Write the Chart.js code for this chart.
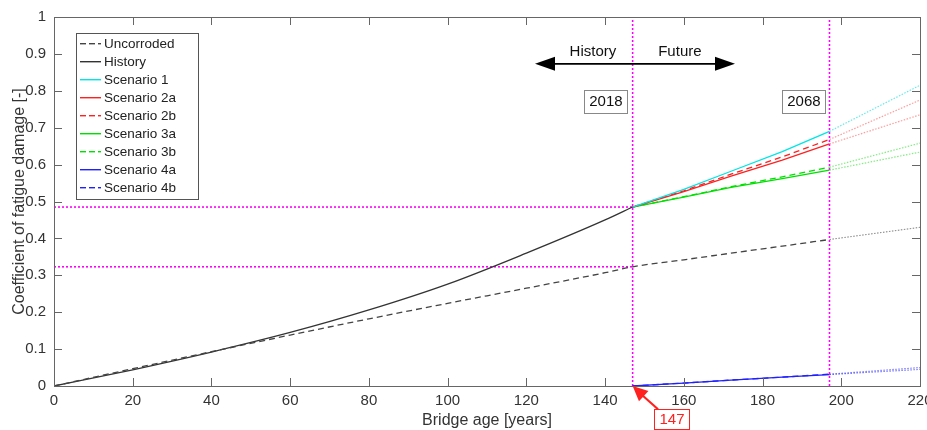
<!DOCTYPE html>
<html>
<head>
<meta charset="utf-8">
<script src="https://cdn.jsdelivr.net/npm/chart.js@4.4.1/dist/chart.umd.min.js"></script>
<style>
html,body{margin:0;padding:0;background:#fff}
#wrap{width:927px;height:430px;position:relative}
</style>
</head>
<body>
<div id="wrap"><canvas id="grafica"></canvas></div>
<script>
// ages (years) and damage values
const ageHist = [0,20,40,60,80,100,120,140,147]
const history = [0,0.044,0.092,0.145,0.206,0.276,0.36,0.45,0.485]
const uncorrodedPast = [0,0.047,0.093,0.138,0.182,0.224,0.265,0.307,0.323]

const ageFuture = [147,160,172,185,197]
const uncorrodedFuture = [0.323,0.342,0.36,0.379,0.397]
const scen1  = [0.485,0.533,0.582,0.635,0.69]
const scen2a = [0.485,0.527,0.569,0.612,0.656]
const scen2b = [0.485,0.529,0.574,0.621,0.668]
const scen3a = [0.485,0.512,0.538,0.562,0.585]
const scen3b = [0.485,0.513,0.54,0.567,0.593]
const scen4a = [0,0.008,0.016,0.024,0.031]
const scen4b = [0,0.008,0.016,0.024,0.032]

// beyond 2068 (dotted extension)
const ageExt = [197,220]
const extUncorroded = [0.397,0.43]
const ext1  = [0.69,0.815]
const ext2a = [0.656,0.735]
const ext2b = [0.668,0.775]
const ext3a = [0.585,0.634]
const ext3b = [0.593,0.658]
const ext4a = [0.031,0.045]
const ext4b = [0.032,0.05]

const milestoneAges = [147,197]
const milestoneLabels = ["2018","2068"]
const refLevels = [0.485,0.323]

const xTicks = [0,20,40,60,80,100,120,140,160,180,200,220]
const yTicks = [0,0.1,0.2,0.3,0.4,0.5,0.6,0.7,0.8,0.9,1]

function pts(xs,ys){ return xs.map((x,i)=>({x:x,y:ys[i]})) }
function join(xa,ya,xb,yb){ return pts(xa,ya).concat(pts(xb,yb).slice(1)) }

const CYAN='#00e5e5', RED='#ff2020', GREEN='#00e000', BLUE='#2020ff', DARK='#333333', MAG='#ff00ff'

function line(label,data,color,dash,opts){
  return Object.assign({
    label:label, data:data, borderColor:color, borderWidth:1.3,
    borderDash:dash||[], pointRadius:0, fill:false, tension:0,
    legendColor:color, legendDash:!!(dash&&dash.length)
  },opts||{})
}
function ext(data,color){
  return line('',data,color,[1.5,1.5],{borderWidth:1.2,legendHide:true})
}

let datasets = [
  line('Uncorroded', join(ageHist,uncorrodedPast,ageFuture,uncorrodedFuture), '#444', [6,4], {cubicInterpolationMode:'monotone'}),
  line('History', pts(ageHist,history), DARK, null, {cubicInterpolationMode:'monotone'}),
  line('Scenario 1', pts(ageFuture,scen1), CYAN),
  line('Scenario 2a', pts(ageFuture,scen2a), RED),
  line('Scenario 2b', pts(ageFuture,scen2b), RED, [6,4]),
  line('Scenario 3a', pts(ageFuture,scen3a), GREEN),
  line('Scenario 3b', pts(ageFuture,scen3b), GREEN, [6,4]),
  line('Scenario 4a', pts(ageFuture,scen4a), BLUE),
  line('Scenario 4b', pts(ageFuture,scen4b), BLUE, [6,4]),
  ext(pts(ageExt,extUncorroded),'rgba(80,80,80,0.6)'),
  ext(pts(ageExt,ext1),'rgba(0,220,220,0.6)'),
  ext(pts(ageExt,ext2a),'rgba(255,60,60,0.5)'),
  ext(pts(ageExt,ext2b),'rgba(255,60,60,0.5)'),
  ext(pts(ageExt,ext3a),'rgba(0,220,0,0.5)'),
  ext(pts(ageExt,ext3b),'rgba(0,220,0,0.5)'),
  ext(pts(ageExt,ext4a),'rgba(40,40,255,0.6)'),
  ext(pts(ageExt,ext4b),'rgba(40,40,255,0.6)')
]
// magenta reference lines
refLevels.forEach(v=>{
  datasets.push(line('',pts([0,milestoneAges[0]],[v,v]),MAG,[2,2],{borderWidth:1.6,legendHide:true}))
})
milestoneAges.forEach(a=>{
  datasets.push(line('',pts([a,a],[0,1]),MAG,[2,2],{borderWidth:1.6,legendHide:true}))
})

const FONT = '"Liberation Sans", Arial, sans-serif'

function arrowHead(ctx,x1,y1,x2,y2,len,wid){
  let ang=Math.atan2(y2-y1,x2-x1)
  ctx.beginPath()
  ctx.moveTo(x2,y2)
  ctx.lineTo(x2-len*Math.cos(ang)+wid*Math.sin(ang), y2-len*Math.sin(ang)-wid*Math.cos(ang))
  ctx.lineTo(x2-len*Math.cos(ang)-wid*Math.sin(ang), y2-len*Math.sin(ang)+wid*Math.cos(ang))
  ctx.closePath()
  ctx.fill()
}

function textBox(ctx,txt,cx,cy,color,border,h){
  h=h||23
  ctx.font='15px '+FONT
  let w=ctx.measureText(txt).width+10
  ctx.fillStyle='#fff'
  ctx.fillRect(cx-w/2,cy-h/2,w,h)
  ctx.strokeStyle=border
  ctx.lineWidth=1
  ctx.strokeRect(Math.round(cx-w/2)+0.5,Math.round(cy-h/2)+0.5,Math.round(w),h)
  ctx.fillStyle=color
  ctx.textAlign='center'
  ctx.textBaseline='middle'
  ctx.fillText(txt,cx,cy+1)
}

const decor = {
  id:'decor',
  afterDraw(chart){
    let ctx=chart.ctx, xs=chart.scales.x, ys=chart.scales.y, a=chart.chartArea
    ctx.save()
    // box and inward ticks
    ctx.strokeStyle='#666'
    ctx.lineWidth=1
    ctx.setLineDash([])
    ctx.strokeRect(a.left+0.5,a.top+0.5,a.right-a.left,a.bottom-a.top)
    ctx.beginPath()
    xTicks.forEach(t=>{
      let p=Math.round(xs.getPixelForValue(t))+0.5
      ctx.moveTo(p,a.bottom); ctx.lineTo(p,a.bottom-8)
      ctx.moveTo(p,a.top); ctx.lineTo(p,a.top+8)
    })
    yTicks.forEach(t=>{
      let p=Math.round(ys.getPixelForValue(t))+0.5
      ctx.moveTo(a.left,p); ctx.lineTo(a.left+8,p)
      ctx.moveTo(a.right,p); ctx.lineTo(a.right-8,p)
    })
    ctx.stroke()

    // legend
    let lx=76, ly=33, lw=122, lh=166
    ctx.fillStyle='#fff'
    ctx.fillRect(lx,ly,lw,lh)
    ctx.strokeStyle='#555'
    ctx.strokeRect(lx+0.5,ly+0.5,lw,lh)
    ctx.font='13.5px '+FONT
    ctx.textBaseline='middle'
    ctx.textAlign='left'
    chart.data.datasets.filter(d=>!d.legendHide).forEach((d,i)=>{
      let y=Math.round(ly+10+i*18)
      ctx.fillStyle=d.legendColor
      if(d.legendDash){
        ctx.fillRect(lx+4,y,6,1.4)
        ctx.fillRect(lx+13,y,6,1.4)
        ctx.fillRect(lx+22,y,3,1.4)
      }else{
        ctx.fillRect(lx+4,y,21,1.4)
      }
      ctx.fillStyle='#222'
      ctx.fillText(d.label,lx+28,y+1)
    })

    // History / Future arrow
    let ay=ys.getPixelForValue(0.873)
    let x1=xs.getPixelForValue(122.2), x2=xs.getPixelForValue(173)
    ctx.strokeStyle='#000'; ctx.fillStyle='#000'; ctx.lineWidth=1.6
    ctx.beginPath(); ctx.moveTo(x1+10,ay); ctx.lineTo(x2-10,ay); ctx.stroke()
    arrowHead(ctx,x2-20,ay,x2,ay,20,7)
    arrowHead(ctx,x1+20,ay,x1,ay,20,7)
    ctx.font='15px '+FONT
    ctx.textAlign='center'; ctx.textBaseline='middle'
    ctx.fillStyle='#111'
    ctx.fillText('History',xs.getPixelForValue(136.9),ys.getPixelForValue(0.905))
    ctx.fillText('Future',xs.getPixelForValue(159),ys.getPixelForValue(0.905))

    // milestone year boxes
    textBox(ctx,milestoneLabels[0],xs.getPixelForValue(140.2),ys.getPixelForValue(0.772),'#111','#888')
    textBox(ctx,milestoneLabels[1],xs.getPixelForValue(190.5),ys.getPixelForValue(0.772),'#111','#888')

    // 147 pointer
    let bx=xs.getPixelForValue(157), by=ys.getPixelForValue(-0.09)
    ctx.strokeStyle=RED; ctx.fillStyle=RED; ctx.lineWidth=2.2
    let tx=xs.getPixelForValue(milestoneAges[0]), ty=ys.getPixelForValue(0)
    ctx.beginPath(); ctx.moveTo(bx-14,by-10); ctx.lineTo(tx+6,ty+6); ctx.stroke()
    arrowHead(ctx,bx-14,by-10,tx,ty,15,7)
    textBox(ctx,String(milestoneAges[0]),bx,by,RED,RED,20)
    ctx.restore()
  }
}

new Chart(document.getElementById('grafica'),{
  type:'line',
  data:{datasets:datasets},
  options:{
    responsive:true,
    maintainAspectRatio:false,
    animation:false,
    layout:{autoPadding:false,padding:{top:17,right:7,left:0,bottom:0}},
    plugins:{legend:{display:false},tooltip:{enabled:false}},
    scales:{
      x:{
        type:'linear', min:0, max:220,
        afterFit(s){ s.height=44; s.paddingRight=0; s.paddingLeft=0 },
        afterBuildTicks(s){ s.ticks=xTicks.map(v=>({value:v})) },
        grid:{display:false,drawTicks:false},
        border:{display:false},
        ticks:{color:'#333',padding:6,font:{family:FONT,size:15},maxRotation:0},
        title:{display:true,text:'Bridge age [years]',color:'#333',font:{family:FONT,size:16},padding:{top:4,bottom:0}}
      },
      y:{
        type:'linear', min:0, max:1,
        afterFit(s){ s.width=54; s.paddingTop=0; s.paddingBottom=0 },
        afterBuildTicks(s){ s.ticks=yTicks.map(v=>({value:v})) },
        grid:{display:false,drawTicks:false},
        border:{display:false},
        ticks:{color:'#333',padding:8,font:{family:FONT,size:15},callback:v=>String(+v.toFixed(1))},
        title:{display:true,text:'Coefficient of fatigue damage [-]',color:'#333',font:{family:FONT,size:16},padding:{top:10,bottom:0}}
      }
    }
  },
  plugins:[decor]
})
</script>
</body>
</html>
